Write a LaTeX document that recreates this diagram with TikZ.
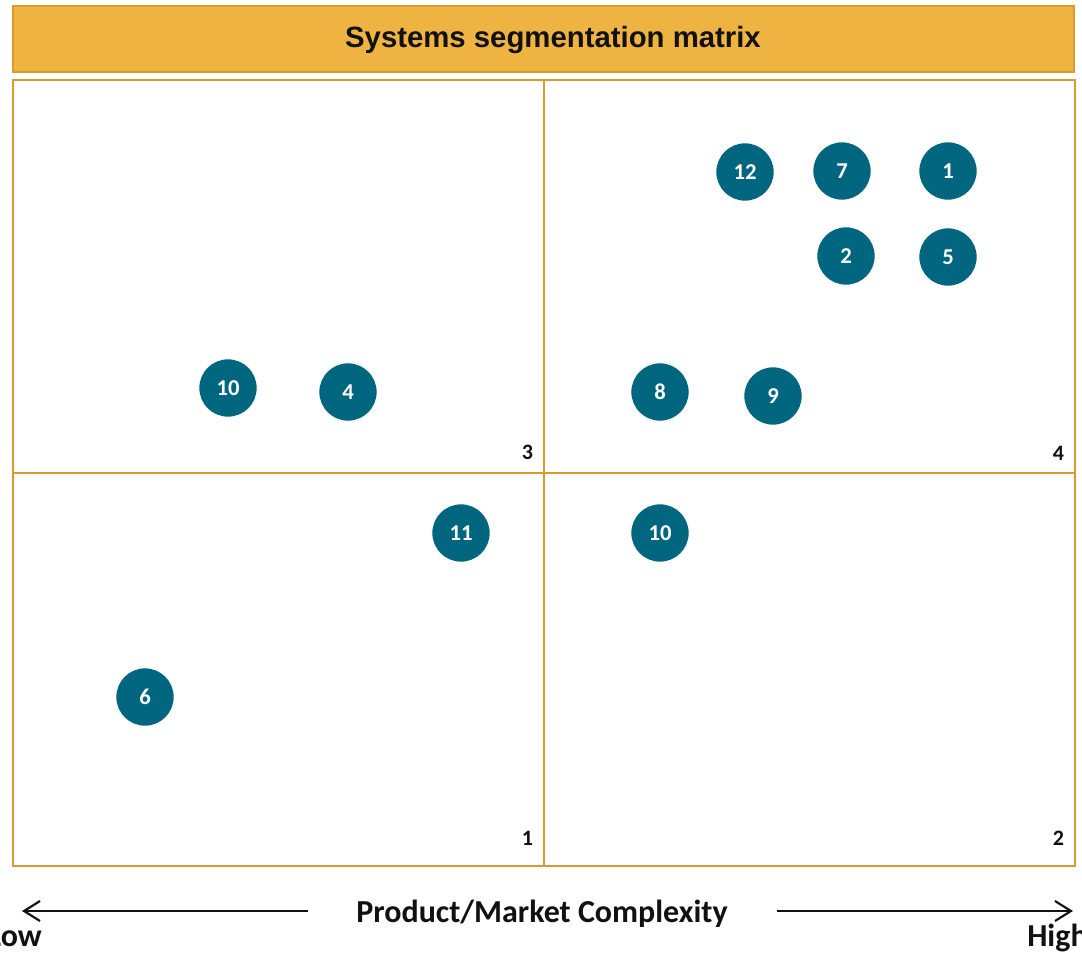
\documentclass[tikz,border=0pt]{standalone}
\usepackage{fontspec}
\setmainfont{Carlito}
\newfontfamily\arialfont{Liberation Sans}
\usetikzlibrary{arrows.meta,positioning}
\definecolor{smGold}{HTML}{EFB342}
\definecolor{smEdge}{HTML}{D99A30}
\definecolor{smTeal}{HTML}{00657F}
\definecolor{smInk}{HTML}{111111}

\begin{document}
\begin{tikzpicture}[x=0.75pt,y=-0.75pt,
  band/.style={draw=smEdge, fill=smGold, line width=1.5pt, inner sep=0pt, minimum width=1061*0.75pt, minimum height=66*0.75pt},
  bandtext/.style={inner sep=0pt, font=\arialfont\bfseries\fontsize{22}{26}\selectfont, text=smInk},
  quad/.style={draw=smEdge, line width=1.5pt, inner sep=0pt, outer sep=0pt, minimum width=531*0.75pt, minimum height=393*0.75pt},
  qnum/.style={anchor=south east, inner sep=0pt, font=\bfseries\fontsize{16.5}{18}\selectfont, text=smInk},
  dot/.style={circle, fill=smTeal, minimum size=43pt, inner sep=0pt, text=white, font=\bfseries\fontsize{17}{18}\selectfont},
  axlab/.style={inner sep=0pt, font=\bfseries\fontsize{24}{26}\selectfont, text=smInk},
  axarrow/.style={-{Straight Barb[length=12pt,width=15pt]}, line width=1.6pt, smInk},
]
\useasboundingbox (0,0) rectangle (1082,957);
% ---- title ----
\node[band] (title) at (543.5,39){};
\node[bandtext] (titletext) at (553,40){Systems segmentation matrix};
% ---- quadrants ----
\node[quad] (q3) at (278.5,276.5){};
\node[quad] (q4) at (809.5,276.5){};
\node[quad] (q1) at (278.5,669.5){};
\node[quad] (q2) at (809.5,669.5){};
% ---- quadrant numbers (bottom right of each cell) ----
\foreach \q/\dy in {3/9.5, 4/9.5, 1/15, 2/15}{
  \node[qnum] (n\q) at ([xshift=-8pt,yshift=\dy pt]q\q.south east){\q};
}
% ---- systems ----
\foreach \i/\n/\px/\py in {a/12/745/172, b/7/842/171, c/1/948/171, d/2/846/256, e/5/948/257,
  f/10/228/388, g/4/348/392, h/8/660/392, i/9/773/396, j/11/461/533, k/10/660/533, l/6/145/697}{
  \node[dot] (dot\i) at (\px,\py){\n};
}
% ---- axis ----
\node[axlab, anchor=base] (axis) at (542,922){Product/Market Complexity};
\coordinate (lowtail) at (308,911);
\coordinate (lowtip) at (22,911);
\coordinate (hightail) at (777,911);
\coordinate (hightip) at (1073,911);
\draw[axarrow] (lowtail) -- (lowtip);
\draw[axarrow] (hightail) -- (hightip);
\node[axlab, anchor=base east] (low) at (42,946){Low};
\node[axlab, anchor=base west] (high) at (1027,946){High};
\end{tikzpicture}
\end{document}
